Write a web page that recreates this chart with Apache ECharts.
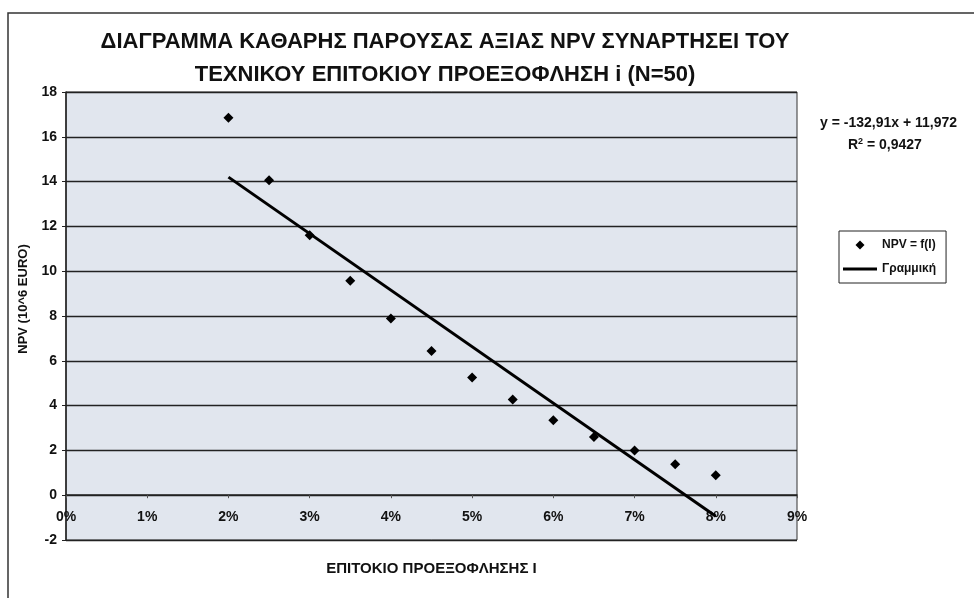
<!DOCTYPE html>
<html>
<head>
<meta charset="utf-8">
<style>
  html, body { margin: 0; padding: 0; background: #fff; }
  #chart { width: 974px; height: 598px; }
</style>
<script src="https://cdn.jsdelivr.net/npm/echarts@6/dist/echarts.min.js"></script>
</head>
<body>
<div id="chart"></div>
<script>
// επιτόκιο (%) και NPV (10^6 EURO)
var rates = [2, 2.5, 3, 3.5, 4, 4.5, 5, 5.5, 6, 6.5, 7, 7.5, 8];
var npv = [16.85, 14.06, 11.6, 9.57, 7.89, 6.44, 5.25, 4.27, 3.35, 2.6, 2.0, 1.38, 0.89];
// γραμμική τάση, άκρα όπως φαίνονται στο διάγραμμα
var trendX = [2, 8];
var trendY = [14.2, -0.94];
var eqLines = ['y = -132,91x + 11,972', 'R{sup|2} = 0,9427'];

var FONT = '"Liberation Sans", Arial, sans-serif';

var chart = echarts.init(document.getElementById('chart'));

var pts = rates.map(function (r, i) { return [r, npv[i]]; });
var trend = trendX.map(function (x, i) { return [x, trendY[i]]; });

var option = {
    backgroundColor: '#fff',
    animation: false,
    title: {
        text: 'ΔΙΑΓΡΑΜΜΑ ΚΑΘΑΡΗΣ ΠΑΡΟΥΣΑΣ ΑΞΙΑΣ NPV ΣΥΝΑΡΤΗΣΕΙ ΤΟΥ\nΤΕΧΝΙΚΟΥ ΕΠΙΤΟΚΙΟΥ ΠΡΟΕΞΟΦΛΗΣΗ i (N=50)',
        left: 440,
        top: 20,
        textAlign: 'center',
        textStyle: {
            fontFamily: FONT,
            fontSize: 22,
            fontWeight: 'bold',
            lineHeight: 33,
            color: '#111'
        }
    },
    legend: {
        orient: 'vertical',
        left: 839,
        top: 231,
        padding: [8, 10, 8, 4],
        itemGap: 12,
        itemWidth: 34,
        itemHeight: 9,
        borderColor: '#222',
        borderWidth: 1,
        backgroundColor: '#fff',
        textStyle: { fontFamily: FONT, fontSize: 12, fontWeight: 'bold', color: '#111' },
        data: [
            { name: 'NPV = f(I)', icon: 'path://M0,0 M34,9 M12.5,4.5 L17,0 L21.5,4.5 L17,9 Z' },
            { name: 'Γραμμική', icon: 'path://M0,0 M34,9 M0,3 L34,3 L34,6 L0,6 Z' }
        ]
    },
    grid: {
        left: 66,
        right: 177,
        top: 92,
        bottom: 58,
        outerBoundsMode: 'none',
        show: true,
        backgroundColor: '#e1e6ee',
        borderColor: '#333',
        borderWidth: 1
    },
    xAxis: {
        type: 'value',
        min: 0,
        max: 9,
        interval: 1,
        name: 'ΕΠΙΤΟΚΙΟ ΠΡΟΕΞΟΦΛΗΣΗΣ Ι',
        nameLocation: 'middle',
        nameGap: 21,
        nameTextStyle: { fontFamily: FONT, fontSize: 15, fontWeight: 'bold', color: '#111' },
        axisLine: { onZero: true, lineStyle: { color: '#222', width: 1.5 } },
        axisTick: { show: true, length: 3, lineStyle: { color: '#555' } },
        axisLabel: {
            margin: -30,
            fontFamily: FONT,
            fontSize: 14,
            fontWeight: 'bold',
            color: '#111',
            formatter: '{value}%'
        },
        splitLine: { show: false }
    },
    yAxis: {
        type: 'value',
        min: -2,
        max: 18,
        interval: 2,
        name: 'NPV (10^6 EURO)',
        nameLocation: 'middle',
        nameGap: 36,
        nameTextStyle: { fontFamily: FONT, fontSize: 13, fontWeight: 'bold', color: '#111', padding: [0, 0, 0, 34] },
        axisLine: { show: true, lineStyle: { color: '#222', width: 1.5 } },
        axisTick: { show: true, length: 4, lineStyle: { color: '#222' } },
        axisLabel: {
            margin: 9,
            fontFamily: FONT,
            fontSize: 14,
            fontWeight: 'bold',
            color: '#111'
        },
        splitLine: { show: true, lineStyle: { color: '#222', width: 1.3 } }
    },
    graphic: [
        {
            type: 'rect',
            silent: true,
            z: -10,
            shape: { x: 8, y: 13, width: 990, height: 620 },
            style: { fill: 'none', stroke: '#333', lineWidth: 1.5 }
        },
        {
            type: 'text',
            left: 820,
            top: 116,
            style: {
                text: eqLines[0],
                fontFamily: FONT,
                fontSize: 14,
                fontWeight: 'bold',
                fill: '#111'
            }
        },
        {
            type: 'text',
            left: 848,
            top: 137,
            style: {
                text: eqLines[1],
                fontFamily: FONT,
                fontSize: 14,
                fontWeight: 'bold',
                fill: '#111',
                rich: {
                    sup: { fontFamily: FONT, fontSize: 9, fontWeight: 'bold', verticalAlign: 'top', padding: [0, 0, 8, 0] }
                }
            }
        }
    ],
    series: [
        {
            name: 'NPV = f(I)',
            type: 'scatter',
            symbol: 'diamond',
            symbolSize: 10,
            itemStyle: { color: '#000', opacity: 1 },
            data: pts,
            z: 3
        },
        {
            name: 'Γραμμική',
            type: 'line',
            symbol: 'none',
            lineStyle: { color: '#000', width: 3 },
            itemStyle: { color: '#000' },
            data: trend,
            z: 4
        }
    ]
};

chart.setOption(option);
</script>
</body>
</html>
